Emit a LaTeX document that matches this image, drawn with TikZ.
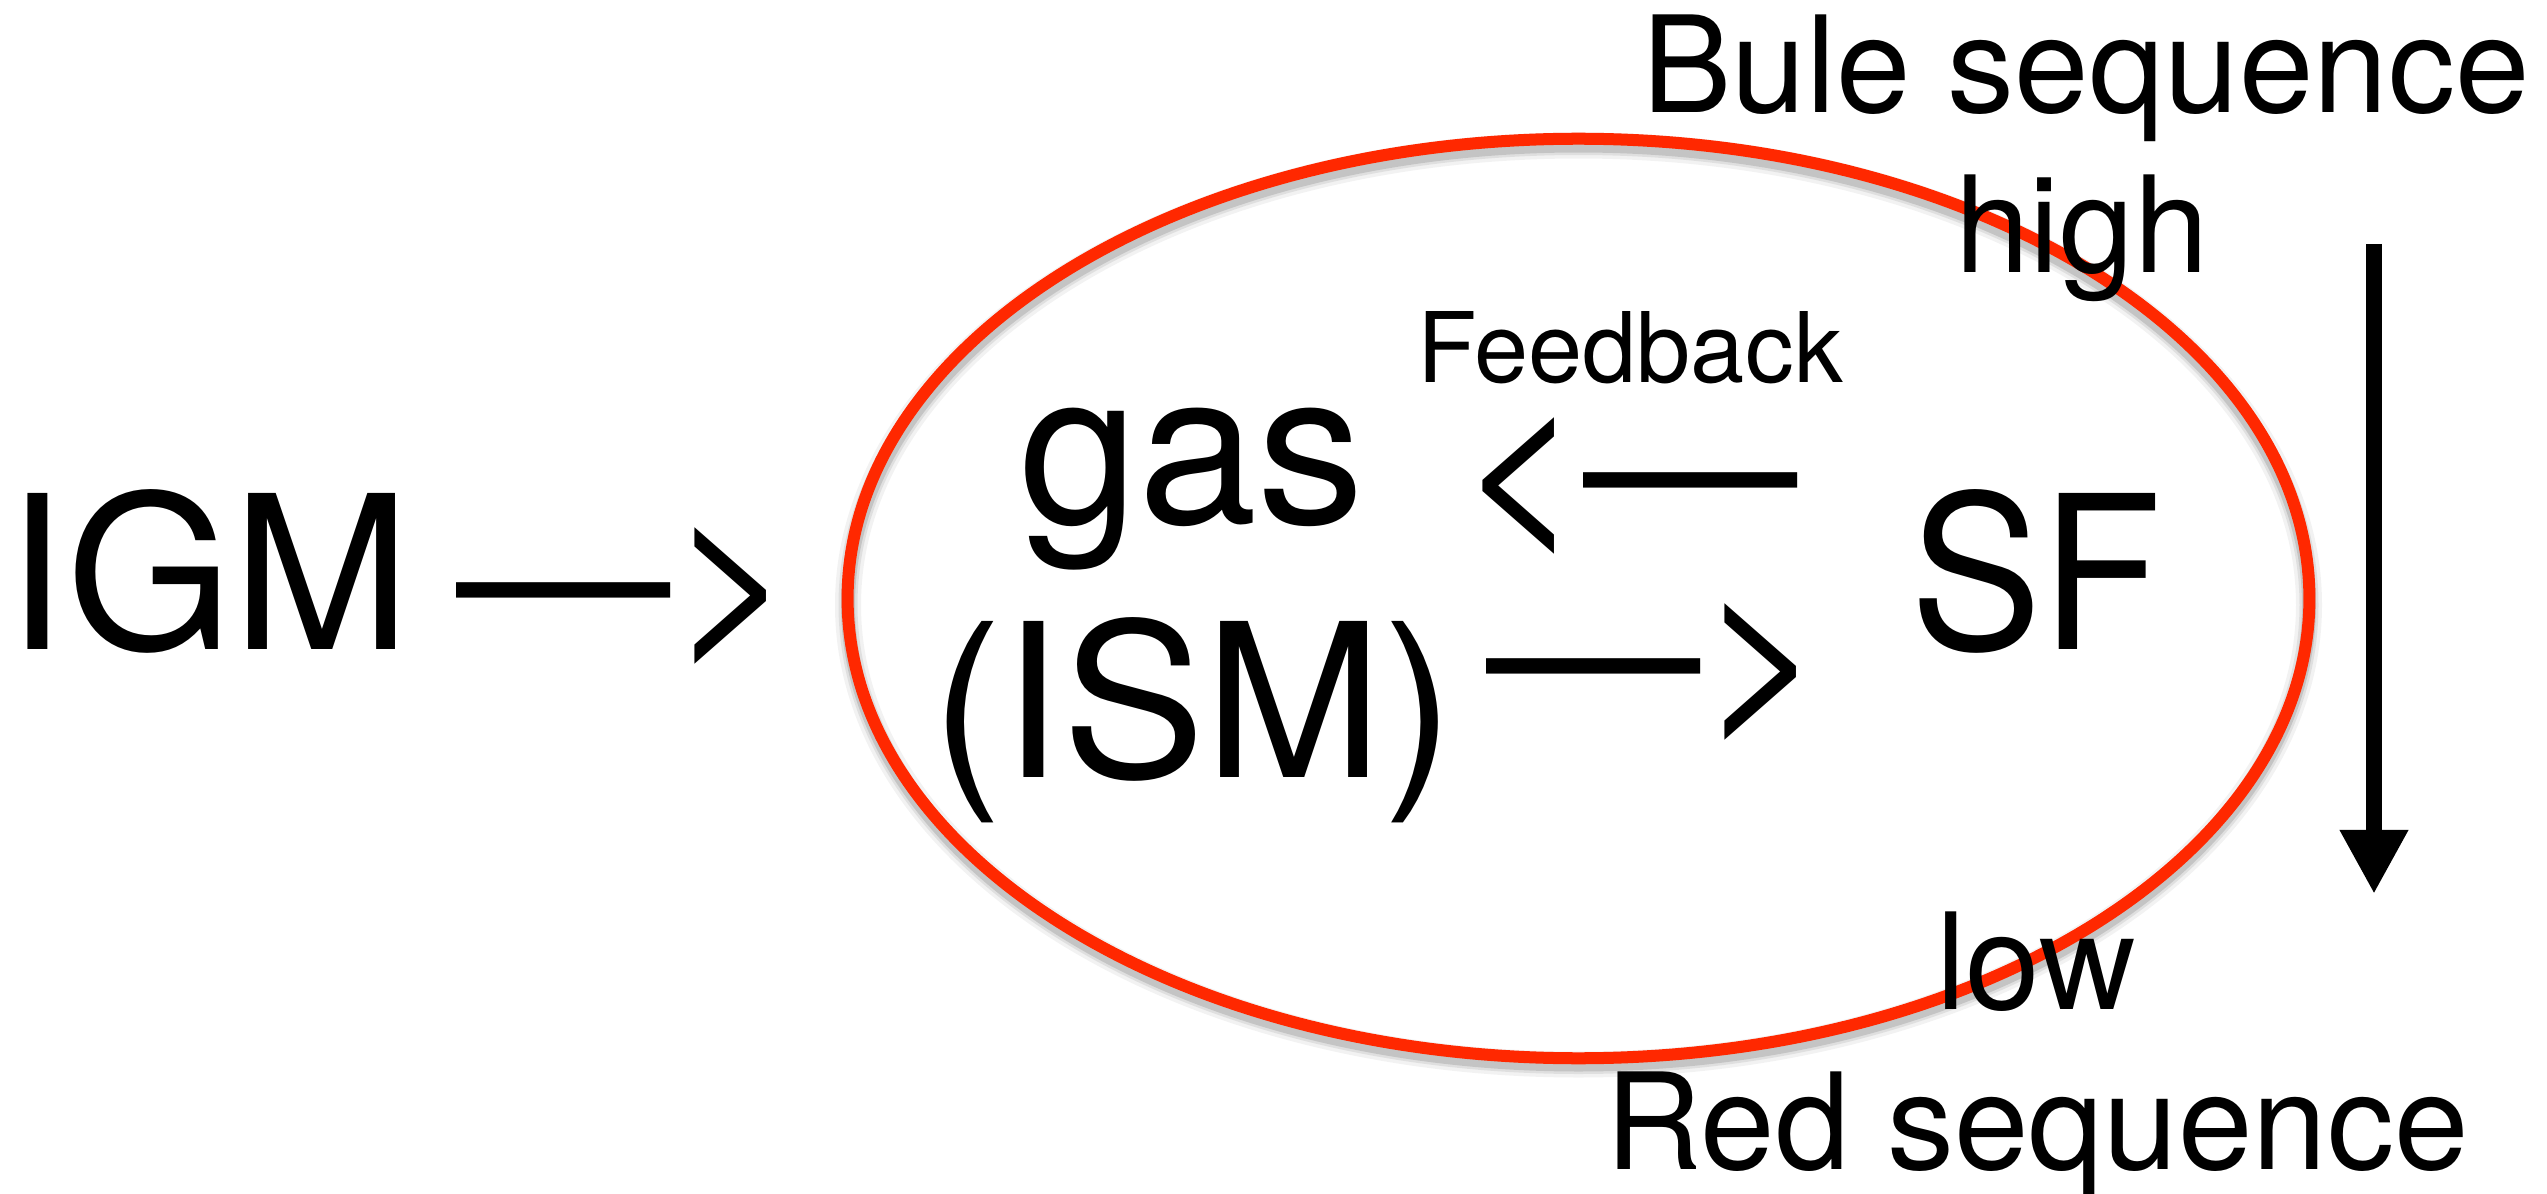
\documentclass[tikz,border=0pt]{standalone}
\usepackage{fontspec}
\setmainfont{TeX Gyre Heros}
\newfontfamily\narrowfont[FakeStretch=0.92]{TeX Gyre Heros}
\usetikzlibrary{arrows.meta, calc, positioning, shapes.geometric}
\usepackage{xcolor}
\definecolor{loopred}{RGB}{255,40,0}

\begin{document}
\begin{tikzpicture}[x=0.01cm, y=-0.01cm, line join=round,
  every node/.style={inner sep=0pt, outer sep=0pt, anchor=base},
  big/.style={font=\fontsize{60.9}{73}\selectfont},
  bignarrow/.style={font=\narrowfont\fontsize{60.9}{73}\selectfont},
  seq/.style={font=\fontsize{38.1}{45.5}\selectfont},
  small/.style={font=\fontsize{27.7}{33}\selectfont},
  ring/.style={ellipse, draw=loopred, line width=0.12cm, anchor=center,
    minimum width=14.61cm, minimum height=9.19cm}]
\useasboundingbox (0,0) rectangle (2547,1194);

% Shadow of the loop
\foreach \w/\o in {0.26cm/0.05, 0.19cm/0.08, 0.14cm/0.12}
  \draw [black, opacity=\o, line width=\w] (1578.5,605) ellipse [x radius=730.5, y radius=459.5];

% Loop
\node (loop) [ring] at (1578.5,598.5) {};

% Outside
\node (igm) [big] at (209,649) {IGM};
\node (inflow) [big] at (626,649) {—>};

% Inside the loop
\node (gas) [big] at (1192,523) {gas};
\node (ism) [big] at (1193,777) {(ISM)};
\node (sf) [bignarrow] at (2036,649) {SF};
\node (fb) [small] at (1630,383) {Feedback};
\node (back) [big] at (1628,540) {<—};
\node (forth) [big] at (1656,725) {—>};

% Sequence labels
\node (bule) [seq] at (2086,113) {Bule sequence};
\node (high) [seq] at (2082,273) {high};
\node (low) [seq] at (2036,1009) {low};
\node (red) [seq] at (2037,1169) {Red sequence};

% Vertical arrow
\coordinate (hi) at (2374,244);
\coordinate (lo) at (2374,894);
\draw [-{Triangle[width=0.64cm, length=0.64cm]}, line width=0.16cm] (hi) -- (lo);
\end{tikzpicture}
\end{document}
